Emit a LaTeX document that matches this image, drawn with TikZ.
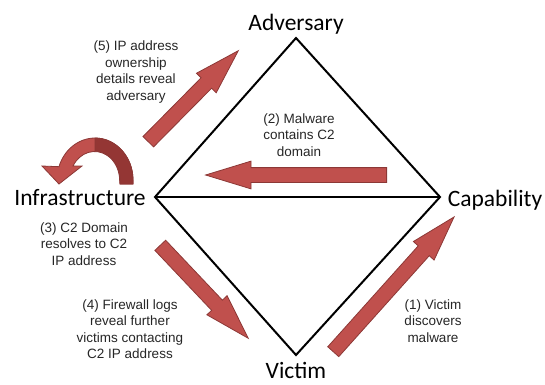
\documentclass[tikz,border=0pt]{standalone}
\usepackage{fontspec}
\setmainfont{Liberation Sans}
\newfontfamily\cornerfont{Carlito}
\usetikzlibrary{shapes.arrows}
\definecolor{arrowred}{HTML}{C0504D}
\definecolor{arrowedge}{HTML}{8C3836}
\definecolor{arrowdark}{HTML}{943634}

\begin{document}
\begin{tikzpicture}[
    x=1pt, y=-1pt,
    corner/.style={font=\cornerfont\fontsize{23.5}{28}\selectfont, inner sep=0pt, anchor=base},
    note/.style={align=center, font=\fontsize{13.5}{16.5}\selectfont, inner sep=0pt, text=black!85},
    edge/.style={line width=2pt, line join=miter},
    blockarrow/.style={single arrow, draw=arrowedge, fill=arrowred, line width=0.8pt,
      inner xsep=0pt, inner ysep=7pt, single arrow head extend=6.5pt, single arrow tip angle=34,
      sloped, allow upside down, pos=0, anchor=tail}
  ]
  \useasboundingbox (0,0) rectangle (545,384);

  % Diamond corners
  \coordinate (top) at (296,38);
  \coordinate (left) at (155,197);
  \coordinate (right) at (440,197);
  \coordinate (bottom) at (296,355);

  \draw[edge] (top) -- (right) -- (bottom) -- (left) -- cycle;
  \draw[edge] (left) -- (right);

  % Corner labels
  \node[corner] (adversary) at (296,30) {Adversary};
  \node[corner] (infrastructure) at (80,205) {Infrastructure};
  \node[corner] (capability) at (495,206) {Capability};
  \node[corner] (victim) at (296,378) {Victim};

  % Pivot arrows
  \coordinate (t1) at (333,352);  \coordinate (h1) at (454,217);
  \coordinate (t2) at (387,175);  \coordinate (h2) at (206,175);
  \coordinate (t4) at (160,245);  \coordinate (h4) at (248,338);
  \coordinate (t5) at (148,142);  \coordinate (h5) at (238,51);

  \path (t1) -- node[blockarrow, minimum height=181pt] (step1) {} (h1);
  \path (t2) -- node[blockarrow, minimum height=181pt] (step2) {} (h2);
  \path (t4) -- node[blockarrow, minimum height=128pt] (step4) {} (h4);
  \path (t5) -- node[blockarrow, minimum height=128pt] (step5) {} (h5);

  % U-turn arrow over Infrastructure
  \fill[arrowred, draw=arrowedge, line width=0.8pt]
    (133,184) -- (133,180) arc[start angle=0, end angle=-161.5, x radius=38, y radius=42]
    -- (42,166) -- (59,184) -- (82,166) -- (73,166)
    arc[start angle=-150, end angle=0, x radius=25, y radius=29]
    -- (120,184) -- cycle;
  \fill[arrowdark, draw=arrowedge, line width=0.8pt]
    (95,138) arc[start angle=-90, end angle=0, x radius=38, y radius=42]
    -- (133,184) -- (120,184) -- (120,180)
    arc[start angle=0, end angle=-90, x radius=25, y radius=29] -- cycle;

  % Step texts
  \node[note] (note1) at (433,321) {(1) Victim\\discovers\\malware};
  \node[note] (note2) at (299,135) {(2) Malware\\contains C2\\domain};
  \node[note] (note3) at (84,244) {(3) C2 Domain\\resolves to C2\\IP address};
  \node[note] (note4) at (130,329) {(4) Firewall logs\\reveal further\\victims contacting\\C2 IP address};
  \node[note] (note5) at (136,72) {(5) IP address\\ownership\\details reveal\\adversary};
\end{tikzpicture}
\end{document}
